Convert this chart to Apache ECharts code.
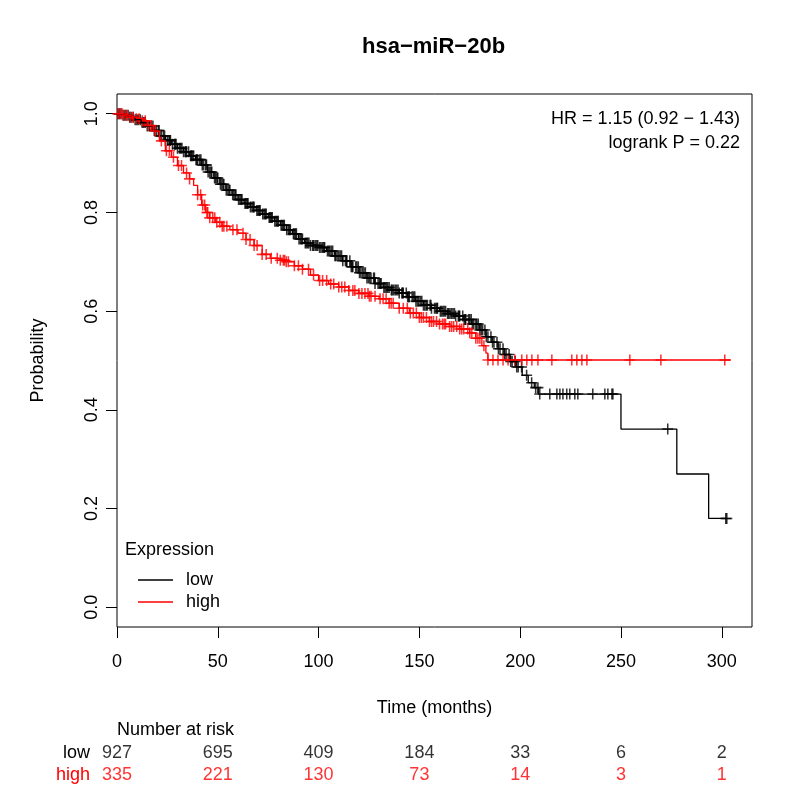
<!DOCTYPE html>
<html style="height:100%;width:100%;">
<head>
  <meta charset="utf-8">
  <title>hsa-miR-20b</title>
  <script src="https://cdn.jsdelivr.net/npm/echarts@6/dist/echarts.min.js"></script>
</head>
<body style="margin:0px;height:100%;width:100%;background:#fff;">
  <div id="main" style="width:800px;height:800px"></div>
  <script type="text/javascript">
    // KM curve for low expression: [months, survival]
    var lowCurve = [
      [0, 1.0], [3, 0.997], [6, 0.993], [9, 0.988], [12, 0.982], [15, 0.975], [18, 0.966],
      [21, 0.955], [24, 0.946], [27, 0.938], [30, 0.930], [33, 0.923], [36, 0.915], [39, 0.907],
      [42, 0.896], [45, 0.882], [48, 0.870], [51, 0.857], [54, 0.845], [57, 0.836], [60, 0.826],
      [63, 0.818], [66, 0.811], [69, 0.804], [72, 0.797], [75, 0.790], [78, 0.782], [81, 0.774],
      [84, 0.765], [87, 0.757], [90, 0.746], [93, 0.738], [96, 0.733], [100, 0.729], [104, 0.722],
      [108, 0.712], [112, 0.702], [116, 0.690], [120, 0.678], [124, 0.667], [128, 0.656],
      [132, 0.648], [136, 0.643], [140, 0.637], [144, 0.629], [148, 0.620], [152, 0.612],
      [156, 0.606], [160, 0.600], [164, 0.595], [168, 0.590], [172, 0.583], [176, 0.574],
      [180, 0.562], [183, 0.548], [186, 0.537], [189, 0.524], [192, 0.512], [195, 0.498],
      [198, 0.487], [201, 0.470], [204, 0.455], [207, 0.445], [209, 0.432], [250, 0.361],
      [277.7, 0.270], [293.5, 0.180], [302.5, 0.180]
    ];
    // KM curve for high expression
    var highCurve = [
      [0, 1.0], [3, 0.997], [6, 0.993], [9, 0.990], [12, 0.986], [15, 0.976], [18, 0.965],
      [21, 0.945], [24, 0.925], [27, 0.912], [30, 0.895], [33, 0.880], [36, 0.868], [38, 0.855],
      [40, 0.836], [42, 0.815], [44, 0.800], [46, 0.789], [49, 0.780], [52, 0.772], [56, 0.765],
      [60, 0.758], [64, 0.745], [68, 0.733], [72, 0.715], [76, 0.707], [80, 0.703], [84, 0.700],
      [88, 0.692], [92, 0.685], [96, 0.673], [100, 0.662], [105, 0.655], [110, 0.649],
      [115, 0.642], [120, 0.636], [125, 0.630], [130, 0.625], [135, 0.616], [140, 0.606],
      [145, 0.596], [150, 0.587], [155, 0.579], [160, 0.574], [165, 0.569], [170, 0.564],
      [175, 0.556], [178, 0.545], [181, 0.530], [183, 0.515], [184, 0.501], [304.5, 0.501]
    ];
    // censoring times (months)
    var lowCensor = [
      0.5, 1.2, 2, 3, 3.8, 4.5, 5.5, 6.3, 7, 8, 9, 9.8, 10.5, 11.5, 12.5, 13.3, 14, 15, 16, 17,
      17.8, 18.5, 19.5, 20.5, 21.3, 22, 23, 24, 25, 25.8, 26.5, 27.5, 28.5, 29.3, 30, 31, 32.2,
      33, 33.8, 34.5, 35.5, 36.5, 37.3, 38, 39.2, 40, 41, 42.3, 43, 44, 45.2, 46, 47, 48.4, 49,
      50, 51.3, 52, 53, 54.2, 55, 56, 57.4, 58, 59, 60.3, 61, 62, 63.5, 64, 65, 66.2, 67, 68,
      69.4, 70, 71, 72.3, 73, 74, 75.5, 76, 77, 78.3, 79, 80, 81.4, 82, 83, 84.2, 85, 86, 87.5,
      88, 89, 90.3, 91, 92, 93.4, 94, 95.2, 96, 97.5, 98.3, 99, 100.5, 101.2, 102, 103, 104.4,
      105, 106.3, 107, 108.5, 109.2, 110, 111.4, 112, 113.3, 114, 115.5, 116.2, 117, 118.4, 119,
      120.3, 121, 122.5, 123.2, 124, 125.4, 126, 127.3, 128, 129.5, 130.2, 131, 132.4, 133,
      134.3, 135, 136.5, 137.2, 138, 139.4, 140, 141.3, 142, 143.5, 144.2, 145, 146.4, 147,
      148.3, 149, 150.5, 151.2, 152, 153.4, 154, 155.3, 156, 157.5, 158.2, 159, 160.4, 161,
      162.3, 163, 164.5, 165.2, 166, 167.4, 168, 169.3, 170, 171.5, 172.2, 173, 174.4, 175,
      176.3, 177, 178.5, 179.2, 180, 181.4, 182.5, 184, 185.5, 187, 188.5, 190, 191.5, 193,
      194.5, 196, 197.5, 199, 200.7, 203.2, 205.7, 207.7,
      208.8, 209.7, 214.7, 218.2, 219.7, 221.2, 223.1, 224.6, 227.1, 228.6, 236, 242, 243.5,
      245.5, 246, 273.2, 302, 302.5,
      // second pass of marks in the dense band
      20.9, 23.6, 26.2, 28.9, 31.6, 34.2, 36.9, 39.6, 41.6, 44.4, 46.6, 49.6, 52.6, 55.6, 58.6,
      61.6, 64.6, 67.6, 70.6, 73.6, 76.6, 79.6, 82.6, 85.6, 88.6, 91.6, 94.6, 97.1, 99.6, 102.6,
      105.6, 108.1, 110.7, 113.8, 116.7, 119.7, 121.8, 124.7, 127.7, 130.7, 133.7, 136.1, 138.7,
      141.7, 144.7, 147.7, 149.7, 152.7, 155.7, 158.7, 161.7, 164, 166.7, 169.7, 172.7, 175.7,
      178, 180.7, 183.2, 186.3, 189.2, 192.3, 195.3, 198.3
    ];
    var highCensor = [
      0.5, 1.5, 2.5, 3.5, 5, 6.5, 8, 9.5, 11, 12.5, 14, 15.5, 17, 19, 22, 24.5, 26, 28, 30.5, 32,
      34.5, 36, 40, 41.5, 43.5, 45, 46, 47.5, 49.5, 51, 53, 54.5, 57.5, 59.5, 62.5, 64, 66, 68,
      69.5, 72, 74, 76.5, 79.5, 81, 82.5, 84, 88, 90, 92, 95, 97.5,
      100.5, 102, 104, 106, 107.5, 110, 111.5, 113, 115, 117, 120, 121.5, 123, 124.5, 126, 128,
      130.5, 132, 133.5, 135, 137, 140, 142, 144, 147, 148.5, 150, 152, 153.5, 155, 157, 160,
      161.5, 163, 165, 167, 168.5, 170, 172, 174, 176, 178, 180, 182,
      184, 186.5, 189, 191.5, 194, 197.4, 200.8, 203.3, 205.8, 208.8, 215.7, 225.6, 228.1,
      230.6, 233.1, 254.4, 269.8, 301.5,
      // second pass
      42.5, 44.6, 48.5, 52.2, 83.2, 85, 118, 125.2, 136, 145.5, 151, 156, 158.5, 162.3, 166,
      171, 175, 179
    ];
    var xTicks = [0, 50, 100, 150, 200, 250, 300];
    var yTicks = [0, 0.2, 0.4, 0.6, 0.8, 1.0];
    var riskTimes = [0, 50, 100, 150, 200, 250, 300];
    var riskLow = [927, 695, 409, 184, 33, 6, 2];
    var riskHigh = [335, 221, 130, 73, 14, 3, 1];

    var FONT = '"Liberation Sans", Arial, Helvetica, sans-serif';
    var PLUS = 'path://M4.3,0H5.7V4.3H10V5.7H5.7V10H4.3V5.7H0V4.3H4.3Z';

    function survAt(curve, t) {
      var v = curve[0][1];
      for (var i = 0; i < curve.length; i++) {
        if (curve[i][0] <= t) v = curve[i][1];
      }
      return v;
    }

    // at-risk row label: plain text, no stroke
    function riskLabel(color) {
      return {
        show: true, position: 'inside',
        color: color, textBorderWidth: 0, textBorderColor: 'transparent',
        textShadowBlur: 0, fontFamily: FONT, fontSize: 18,
        formatter: function (p) { return p.value[2]; }
      };
    }

    var myChart = echarts.init(document.getElementById("main"));

    var option = {
      animation: false,
      backgroundColor: '#ffffff',
      textStyle: { fontFamily: FONT },
      title: [{
        text: 'hsa\u2212miR\u221220b',
        left: 362, top: 36, padding: 0,
        textStyle: { fontFamily: FONT, fontSize: 22, fontWeight: 'bold', color: '#000' }
      }, {
        text: 'Expression',
        left: 125, top: 541, padding: 0,
        textStyle: { fontFamily: FONT, fontSize: 18, fontWeight: 'normal', color: '#000' }
      }, {
        text: 'Number at risk',
        left: 117, top: 721, padding: 0,
        textStyle: { fontFamily: FONT, fontSize: 18, fontWeight: 'normal', color: '#000' }
      }],
      graphic: [{
        type: 'text', x: 740, y: 119,
        style: { text: 'HR = 1.15 (0.92 \u2212 1.43)', font: '18px ' + FONT, fill: '#000', align: 'right', verticalAlign: 'middle' }
      }, {
        type: 'text', x: 740, y: 143,
        style: { text: 'logrank P = 0.22', font: '18px ' + FONT, fill: '#000', align: 'right', verticalAlign: 'middle' }
      }],
      legend: {
        data: ['low', 'high'],
        orient: 'vertical',
        left: 133, top: 566,
        icon: 'rect',
        itemWidth: 35, itemHeight: 1.5,
        itemGap: 4,
        textStyle: { fontFamily: FONT, fontSize: 18, color: '#000', padding: [0, 0, 0, 8] }
      },
      grid: [{
        left: 117, right: 48, top: 94, bottom: 173,
        show: true, borderColor: '#000', borderWidth: 1, backgroundColor: 'transparent'
      }, {
        left: 117, right: 48, top: 742, height: 44, show: false
      }],
      xAxis: [{
        type: 'value', gridIndex: 0, min: 0, max: 315,
        name: 'Time (months)', nameLocation: 'middle', nameGap: 72,
        nameTextStyle: { fontFamily: FONT, fontSize: 18, color: '#000' },
        axisLine: { show: false, onZero: false },
        splitLine: { show: false },
        axisTick: { show: true, inside: false, customValues: xTicks, length: 11, lineStyle: { color: '#000', width: 1 } },
        axisLabel: { customValues: xTicks, margin: 26, fontFamily: FONT, fontSize: 18, color: '#000' }
      }, {
        type: 'value', gridIndex: 1, min: 0, max: 315, show: false
      }],
      yAxis: [{
        type: 'value', gridIndex: 0, min: -0.04, max: 1.04,
        name: 'Probability', nameLocation: 'middle', nameGap: 70, nameRotate: 90,
        nameTextStyle: { fontFamily: FONT, fontSize: 18, color: '#000' },
        axisLine: { show: false, onZero: false },
        splitLine: { show: false },
        axisTick: { show: true, inside: false, customValues: yTicks, length: 11, lineStyle: { color: '#000', width: 1 } },
        axisLabel: {
          customValues: yTicks, rotate: 90, margin: 16,
          fontFamily: FONT, fontSize: 18, color: '#000',
          formatter: function (v) { return v.toFixed(1); }
        }
      }, {
        type: 'category', gridIndex: 1, data: ['high', 'low'],
        axisLine: { show: false }, axisTick: { show: false }, splitLine: { show: false },
        axisLabel: {
          interval: 0, hideOverlap: false,
          margin: 27, fontFamily: FONT, fontSize: 18,
          formatter: function (v) { return v === 'low' ? '{k|low}' : '{r|high}'; },
          rich: {
            k: { color: '#000', fontFamily: FONT, fontSize: 18 },
            r: { color: '#ff0000', fontFamily: FONT, fontSize: 18 }
          }
        }
      }],
      series: [{
        name: 'low', type: 'line', step: 'end',
        xAxisIndex: 0, yAxisIndex: 0,
        data: lowCurve, showSymbol: false, symbol: 'none',
        color: '#000000',
        lineStyle: { color: '#000000', width: 1.3 }
      }, {
        name: 'low censor', type: 'scatter',
        xAxisIndex: 0, yAxisIndex: 0,
        data: lowCensor.map(function (t) { return [t, survAt(lowCurve, t)]; }),
        symbol: PLUS, symbolSize: 11,
        itemStyle: { color: '#000000' }
      }, {
        name: 'high', type: 'line', step: 'end',
        xAxisIndex: 0, yAxisIndex: 0,
        data: highCurve, showSymbol: false, symbol: 'none',
        color: '#ff0000',
        lineStyle: { color: '#ff0000', width: 1.3 }
      }, {
        name: 'high censor', type: 'scatter',
        xAxisIndex: 0, yAxisIndex: 0,
        data: highCensor.map(function (t) { return [t, survAt(highCurve, t)]; }),
        symbol: PLUS, symbolSize: 11,
        itemStyle: { color: '#ff0000' }
      }, {
        name: 'risk low', type: 'scatter',
        xAxisIndex: 1, yAxisIndex: 1,
        data: riskTimes.map(function (t, i) { return [t, 'low', riskLow[i]]; }),
        symbolSize: 1, itemStyle: { color: '#ffffff' },
        label: riskLabel('#000000')
      }, {
        name: 'risk high', type: 'scatter',
        xAxisIndex: 1, yAxisIndex: 1,
        data: riskTimes.map(function (t, i) { return [t, 'high', riskHigh[i]]; }),
        symbolSize: 1, itemStyle: { color: '#ffffff' },
        label: riskLabel('#ff0000')
      }]
    };

    myChart.setOption(option);
  </script>
</body>
</html>
